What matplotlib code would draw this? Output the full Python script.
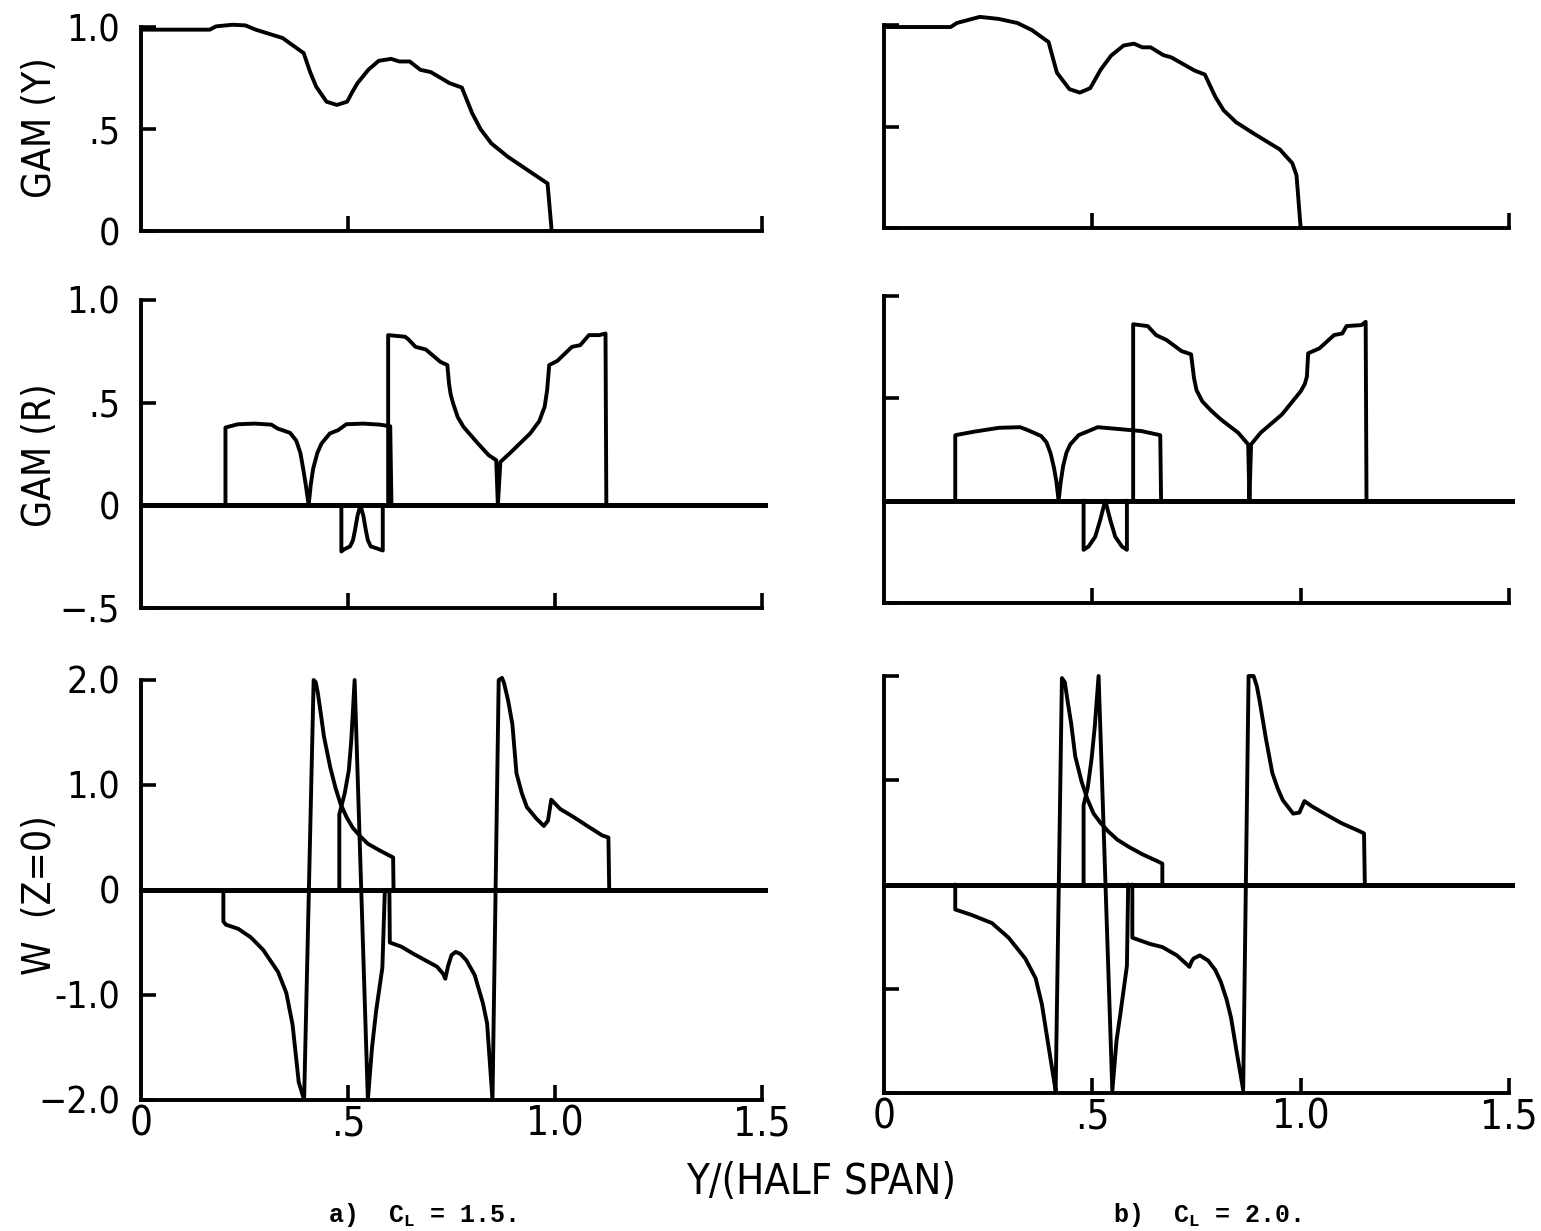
import matplotlib
matplotlib.use("Agg")
import matplotlib.pyplot as plt

# ------------------------------------------------------------------ data
x_tick_vals = [0.0, 0.5, 1.0, 1.5]
x_tick_labels = ["0", ".5", "1.0", "1.5"]

gy_ticks = [0.0, 0.5, 1.0]
gy_labels = ["0", ".5", "1.0"]
gr_ticks = [-0.5, 0.0, 0.5, 1.0]
gr_labels = ["\u2212.5", "0", ".5", "1.0"]
w_ticks = [-2.0, -1.0, 0.0, 1.0, 2.0]
w_labels = ["\u22122.0", "-1.0", "0", "1.0", "2.0"]

row_labels = ["GAM (Y)", "GAM (R)", "W  (Z=0)"]
captions = ["a)  C$_{\\mathrm{L}}$ = 1.5.", "b)  C$_{\\mathrm{L}}$ = 2.0."]
x_title = "Y/(HALF SPAN)"

# ---- a) CL = 1.5
gamy_a_x = [0.0, 0.166, 0.181, 0.221, 0.252, 0.277, 0.342, 0.393, 0.400, 0.408, 0.423, 0.448,
            0.473, 0.498, 0.510, 0.523, 0.549, 0.574, 0.604, 0.624, 0.649, 0.675, 0.700, 0.745,
            0.775, 0.800, 0.820, 0.846, 0.886, 0.946, 0.982, 0.992]
gamy_a_y = [0.987, 0.987, 1.003, 1.011, 1.008, 0.987, 0.946, 0.872, 0.830, 0.782, 0.708, 0.634,
            0.618, 0.634, 0.680, 0.725, 0.790, 0.834, 0.844, 0.831, 0.831, 0.790, 0.779, 0.725,
            0.703, 0.577, 0.500, 0.430, 0.364, 0.282, 0.233, 0.0]

gamr_a1_x = [0.204, 0.204, 0.234, 0.275, 0.315, 0.330, 0.360, 0.375, 0.385, 0.392, 0.398,
             0.405, 0.410, 0.416, 0.426, 0.436, 0.456, 0.476, 0.496, 0.537, 0.577, 0.602, 0.605]
gamr_a1_y = [0.0, 0.379, 0.395, 0.398, 0.393, 0.374, 0.353, 0.315, 0.255, 0.175, 0.100,
             0.0, 0.100, 0.180, 0.255, 0.301, 0.350, 0.366, 0.395, 0.398, 0.393, 0.385, 0.0]
gamr_a2_x = [0.484, 0.484, 0.490, 0.505, 0.512, 0.517, 0.523, 0.530, 0.537, 0.543, 0.548,
             0.555, 0.570, 0.584, 0.584]
gamr_a2_y = [0.0, -0.225, -0.215, -0.200, -0.170, -0.120, -0.050, 0.0, -0.050, -0.120,
             -0.170, -0.200, -0.210, -0.220, 0.0]
gamr_a3_x = [0.597, 0.597, 0.638, 0.645, 0.663, 0.688, 0.723, 0.740, 0.744, 0.748, 0.754,
             0.765, 0.779, 0.814, 0.840, 0.858, 0.862, 0.868, 0.890, 0.940, 0.962, 0.975,
             0.981, 0.986, 1.006, 1.041, 1.061, 1.082, 1.107, 1.122, 1.124]
gamr_a3_y = [0.0, 0.829, 0.821, 0.810, 0.772, 0.759, 0.699, 0.683, 0.593, 0.540, 0.496,
             0.430, 0.382, 0.301, 0.244, 0.220, 0.0, 0.211, 0.252, 0.350, 0.410, 0.480,
             0.561, 0.683, 0.704, 0.772, 0.780, 0.829, 0.829, 0.837, 0.0]

w_a1_x = [0.199, 0.199, 0.205, 0.235, 0.265, 0.295, 0.331, 0.351, 0.366, 0.381, 0.394,
          0.417, 0.422, 0.427, 0.435, 0.442, 0.457, 0.470, 0.482, 0.497, 0.512, 0.530,
          0.548, 0.575, 0.599, 0.609, 0.610]
w_a1_y = [0.0, -0.30, -0.33, -0.37, -0.45, -0.57, -0.78, -0.98, -1.28, -1.83, -2.0,
          2.0, 1.98, 1.88, 1.66, 1.46, 1.17, 0.97, 0.82, 0.69, 0.59, 0.51, 0.44, 0.38,
          0.33, 0.31, 0.0]
w_a2_x = [0.479, 0.479, 0.492, 0.502, 0.508, 0.516, 0.548, 0.558, 0.568, 0.583, 0.589]
w_a2_y = [0.0, 0.72, 0.92, 1.14, 1.43, 2.0, -2.0, -1.5, -1.15, -0.74, 0.0]
w_a3_x = [0.600, 0.601, 0.629, 0.659, 0.715, 0.730, 0.735, 0.742, 0.750, 0.760, 0.772,
          0.786, 0.806, 0.826, 0.836, 0.849, 0.864, 0.872, 0.877, 0.887, 0.897, 0.907,
          0.920, 0.932, 0.955, 0.973, 0.983, 0.991, 1.013, 1.043, 1.074, 1.114, 1.129, 1.131]
w_a3_y = [0.0, -0.50, -0.54, -0.61, -0.73, -0.80, -0.845, -0.72, -0.62, -0.59, -0.61,
          -0.67, -0.81, -1.08, -1.27, -2.0, 2.0, 2.02, 1.97, 1.80, 1.58, 1.11, 0.92,
          0.79, 0.68, 0.61, 0.66, 0.86, 0.77, 0.70, 0.62, 0.52, 0.50, 0.0]

# ---- b) CL = 2.0
gamy_b_x = [0.0, 0.160, 0.175, 0.230, 0.275, 0.320, 0.355, 0.395, 0.405, 0.415, 0.445, 0.470,
            0.495, 0.520, 0.545, 0.575, 0.600, 0.620, 0.640, 0.670, 0.690, 0.745, 0.770,
            0.795, 0.815, 0.845, 0.890, 0.950, 0.980, 0.990, 1.000]
gamy_b_y = [0.990, 0.990, 1.010, 1.040, 1.030, 1.010, 0.975, 0.916, 0.840, 0.765, 0.684, 0.667,
            0.689, 0.780, 0.849, 0.899, 0.908, 0.890, 0.890, 0.852, 0.840, 0.776, 0.756,
            0.647, 0.580, 0.521, 0.462, 0.387, 0.319, 0.260, 0.0]

gamr_b1_x = [0.171, 0.171, 0.216, 0.276, 0.327, 0.347, 0.377, 0.390, 0.400, 0.408, 0.414,
             0.419, 0.424, 0.430, 0.438, 0.447, 0.467, 0.513, 0.558, 0.618, 0.663, 0.665]
gamr_b1_y = [0.0, 0.320, 0.337, 0.356, 0.359, 0.343, 0.316, 0.285, 0.230, 0.160, 0.090,
             0.0, 0.090, 0.170, 0.235, 0.275, 0.320, 0.359, 0.351, 0.340, 0.320, 0.0]
gamr_b2_x = [0.479, 0.479, 0.491, 0.507, 0.519, 0.527, 0.531, 0.535, 0.543, 0.555, 0.571,
             0.583, 0.583]
gamr_b2_y = [0.0, -0.240, -0.224, -0.176, -0.094, -0.030, 0.0, -0.030, -0.094, -0.176,
             -0.224, -0.240, 0.0]
gamr_b3_x = [0.598, 0.598, 0.633, 0.653, 0.678, 0.714, 0.737, 0.744, 0.750, 0.764, 0.785,
             0.809, 0.850, 0.874, 0.877, 0.881, 0.904, 0.955, 1.000, 1.010, 1.015, 1.018,
             1.045, 1.080, 1.100, 1.110, 1.146, 1.156, 1.158]
gamr_b3_y = [0.0, 0.862, 0.853, 0.809, 0.785, 0.731, 0.715, 0.599, 0.540, 0.485, 0.440,
             0.396, 0.332, 0.275, 0.0, 0.275, 0.332, 0.421, 0.534, 0.570, 0.607, 0.720,
             0.744, 0.809, 0.817, 0.853, 0.858, 0.874, 0.0]

w_b1_x = [0.171, 0.171, 0.209, 0.259, 0.299, 0.339, 0.364, 0.379, 0.394, 0.404, 0.412,
          0.427, 0.434, 0.441, 0.449, 0.459, 0.474, 0.488, 0.503, 0.520, 0.538, 0.560,
          0.588, 0.620, 0.658, 0.668, 0.668]
w_b1_y = [0.0, -0.24, -0.29, -0.37, -0.51, -0.71, -0.90, -1.15, -1.53, -1.78, -1.98,
          1.98, 1.94, 1.75, 1.55, 1.23, 0.99, 0.82, 0.68, 0.59, 0.51, 0.43, 0.36, 0.29,
          0.22, 0.20, 0.0]
w_b2_x = [0.479, 0.479, 0.489, 0.498, 0.506, 0.515, 0.548, 0.558, 0.568, 0.583, 0.586]
w_b2_y = [0.0, 0.76, 0.93, 1.20, 1.52, 2.0, -1.98, -1.5, -1.22, -0.78, 0.0]
w_b3_x = [0.596, 0.596, 0.638, 0.668, 0.703, 0.725, 0.733, 0.738, 0.743, 0.758, 0.778,
          0.795, 0.808, 0.822, 0.833, 0.847, 0.862, 0.875, 0.887, 0.895, 0.902, 0.917,
          0.932, 0.945, 0.957, 0.982, 0.997, 1.009, 1.027, 1.057, 1.097, 1.142, 1.152, 1.154]
w_b3_y = [0.0, -0.51, -0.57, -0.60, -0.68, -0.76, -0.79, -0.74, -0.71, -0.68, -0.73,
          -0.82, -0.93, -1.10, -1.28, -1.62, -1.97, 2.0, 2.0, 1.90, 1.75, 1.39, 1.07,
          0.92, 0.81, 0.68, 0.69, 0.80, 0.75, 0.68, 0.59, 0.51, 0.49, 0.0]

# ------------------------------------------------------------------ layout
W_PX, H_PX, DPI = 1541, 1231, 100
plt.rcParams["font.family"] = ["DejaVu Sans"]
plt.rcParams["mathtext.fontset"] = "custom"
plt.rcParams["mathtext.rm"] = "Liberation Mono:bold"

fig = plt.figure(figsize=(W_PX / DPI, H_PX / DPI), dpi=DPI)
fig.patch.set_facecolor("white")

col_px = [(141, 762), (884, 1509)]
row_px = [[(27, 231), (300, 608), (680, 1100)],
          [(25, 228), (296, 603), (676, 1093)]]
row_lims = [(0.0, 1.0), (-0.5, 1.0), (-2.0, 2.0)]
row_ticks = [(gy_ticks, gy_labels), (gr_ticks, gr_labels), (w_ticks, w_labels)]

panels = [
    [[(gamy_a_x, gamy_a_y)],
     [(gamr_a1_x, gamr_a1_y), (gamr_a2_x, gamr_a2_y), (gamr_a3_x, gamr_a3_y)],
     [(w_a1_x, w_a1_y), (w_a2_x, w_a2_y), (w_a3_x, w_a3_y)]],
    [[(gamy_b_x, gamy_b_y)],
     [(gamr_b1_x, gamr_b1_y), (gamr_b2_x, gamr_b2_y), (gamr_b3_x, gamr_b3_y)],
     [(w_b1_x, w_b1_y), (w_b2_x, w_b2_y), (w_b3_x, w_b3_y)]],
]

LW = 2.8
tick_font = dict(family="DejaVu Sans", stretch="condensed")

for c in range(2):
    x0, x1 = col_px[c]
    for r in range(3):
        ytop, ybot = row_px[c][r]
        ax = fig.add_axes([x0 / W_PX, 1 - ybot / H_PX, (x1 - x0) / W_PX, (ybot - ytop) / H_PX])
        ax.set_xlim(0, 1.5)
        ax.set_ylim(*row_lims[r])
        ax.patch.set_alpha(0)
        for s in ("top", "right"):
            ax.spines[s].set_visible(False)
        for s in ("left", "bottom"):
            ax.spines[s].set_linewidth(2.8)
            ax.spines[s].set_capstyle("projecting")
        ax.tick_params(direction="in", length=11, width=2.6, pad=15)

        yt, yl = row_ticks[r]
        ax.set_yticks(yt)
        if c == 0:
            ax.set_yticklabels(yl, fontsize=27, **tick_font)
        else:
            ax.tick_params(labelleft=False)

        if r == 0:
            ax.set_xticks([0.5, 1.5])
            ax.tick_params(labelbottom=False)
        elif r == 1:
            ax.set_xticks([0.5, 1.0, 1.5])
            ax.tick_params(labelbottom=False)
        else:
            ax.set_xticks(x_tick_vals)
            ax.set_xticklabels(x_tick_labels, fontsize=29, **tick_font)
            ax.tick_params(axis="x", pad=3)
            ax.xaxis.get_major_ticks()[0].tick1line.set_visible(False)

        if r > 0:
            ax.axhline(0.0, xmin=0, xmax=1.005, color="black", lw=3.6, clip_on=False)

        for xs, ys in panels[c][r]:
            ax.plot(xs, ys, color="black", lw=LW, clip_on=False,
                    solid_joinstyle="round", solid_capstyle="round")

# row labels
label_y_px = [128, 455, 895]
for txt, ypx in zip(row_labels, label_y_px):
    fig.text(40 / W_PX, 1 - ypx / H_PX, txt, rotation=90, ha="center", va="center",
             fontsize=28, **tick_font)

fig.text(821 / W_PX, 1 - 1182 / H_PX, x_title, ha="center", va="center",
         fontsize=30, **tick_font)

fig.text(328 / W_PX, 1 - 1222 / H_PX, captions[0], ha="left", va="baseline",
         fontsize=18, family="Liberation Mono", weight="bold")
fig.text(1113 / W_PX, 1 - 1222 / H_PX, captions[1], ha="left", va="baseline",
         fontsize=18, family="Liberation Mono", weight="bold")

fig.savefig("out.png", dpi=DPI, facecolor="white")
